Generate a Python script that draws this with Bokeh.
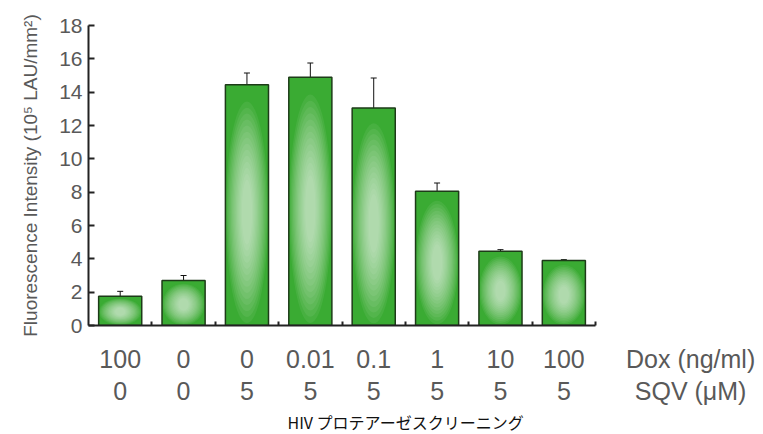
from bokeh.plotting import figure
from bokeh.models import (LinearAxis, FixedTicker, Whisker, ColumnDataSource,
                          TeeHead)
from bokeh.embed import file_html
from bokeh.resources import INLINE

# ---- data ----
dox_labels = ["100", "0", "0", "0.01", "0.1", "1", "10", "100"]
sqv_labels = ["0", "0", "5", "5", "5", "5", "5", "5"]
intensity = [1.75, 2.7, 14.45, 14.9, 13.05, 8.05, 4.45, 3.9]
error = [0.3, 0.3, 0.7, 0.85, 1.8, 0.5, 0.1, 0.05]
y_ticks = [0, 2, 4, 6, 8, 10, 12, 14, 16, 18]
dox_header = "Dox (ng/ml)"
sqv_header = "SQV (μM)"
title_text = "HIV プロテアーゼスクリーニング"
y_label = "Fluorescence Intensity (10⁵ LAU/mm²)"

positions = list(range(1, len(intensity) + 1))
n_bars = len(positions)
header_pos = n_bars + 2          # row headers sit two slots right of the last bar
bar_w = 0.68
FONT = "Liberation Sans"
GREY = "#595959"
AXIS = "#222222"

p = figure(width=763, height=434, x_range=(0.5, n_bars + 3.15),
           y_range=(0, 18), output_backend="svg", toolbar_location=None,
           min_border_left=88, min_border_right=0, min_border_top=25,
           min_border_bottom=108, title=title_text, title_location="below")
p.grid.visible = False
p.outline_line_color = None

# bars: base + light radial highlight layers + outline
src = ColumnDataSource(dict(x=positions, top=intensity,
                            upper=[v + e for v, e in zip(intensity, error)],
                            lower=[v - e for v, e in zip(intensity, error)]))
p.vbar(x="x", top="top", width=bar_w, source=src, fill_color="#3aab33",
       line_color=None)
n = 14
for k in range(n):
    f = k / n
    p.ellipse(x=positions, y=[v * 0.47 for v in intensity],
              width=[bar_w * (0.98 - 0.8 * f)] * n_bars,
              height=[v * (0.92 - 0.7 * f) for v in intensity],
              fill_color="white", fill_alpha=0.065, line_color=None)
p.vbar(x="x", top="top", width=bar_w, source=src, fill_color=None,
       line_color="#1d3b18", line_width=1.5)

p.add_layout(Whisker(source=src, base="x", upper="upper", lower="lower",
                     line_color="#111111", line_width=1,
                     upper_head=TeeHead(size=6, line_color="#111111", line_width=1),
                     lower_head=TeeHead(size=6, line_color="#111111", line_width=1)))

# y axis
ya = p.yaxis[0]
ya.ticker = FixedTicker(ticks=y_ticks)
ya.minor_tick_line_color = None
ya.major_tick_in = 6
ya.major_tick_out = 0
ya.major_tick_line_width = 2
ya.major_tick_line_color = AXIS
ya.axis_line_width = 2
ya.axis_line_color = AXIS
ya.major_label_text_font = FONT
ya.major_label_text_font_size = "21px"
ya.major_label_text_color = GREY
ya.major_label_standoff = 6
ya.axis_label = y_label
ya.axis_label_text_font = FONT
ya.axis_label_text_font_size = "19px"
ya.axis_label_text_font_style = "normal"
ya.axis_label_text_color = GREY
ya.axis_label_standoff = 15

# x axis (line + small in-ticks between bars), limited to the bar area
xa = p.xaxis[0]
xa.bounds = (0.5, n_bars + 0.5)
xa.ticker = FixedTicker(ticks=[x + 0.5 for x in positions])
xa.minor_tick_line_color = None
xa.major_tick_in = 4
xa.major_tick_out = 0
xa.major_tick_line_width = 2
xa.major_tick_line_color = AXIS
xa.axis_line_width = 2
xa.axis_line_color = AXIS
xa.major_label_text_font_size = "1px"
xa.major_label_text_alpha = 0
xa.major_label_standoff = 0

def label_axis(labels, header, standoff):
    ticks = positions + [header_pos]
    texts = labels + [header]
    ax = LinearAxis(ticker=FixedTicker(ticks=ticks),
                    major_label_overrides={x: t for x, t in zip(ticks, texts)})
    ax.axis_line_color = None
    ax.major_tick_line_color = None
    ax.minor_tick_line_color = None
    ax.major_tick_in = 0
    ax.major_tick_out = 0
    ax.major_label_standoff = standoff
    ax.major_label_text_font = FONT
    ax.major_label_text_font_size = "25px"
    ax.major_label_text_color = GREY
    p.add_layout(ax, "below")
    return ax

label_axis(dox_labels, dox_header, 19)
label_axis(sqv_labels, sqv_header, 1)

p.title.text_font = "Noto Sans CJK JP"
p.title.text_font_size = "16px"
p.title.text_font_style = "normal"
p.title.text_color = "#111111"
p.title.align = "left"
p.title.offset = 199
p.title.standoff = 1

open("out.html", "w").write(file_html(p, INLINE))
